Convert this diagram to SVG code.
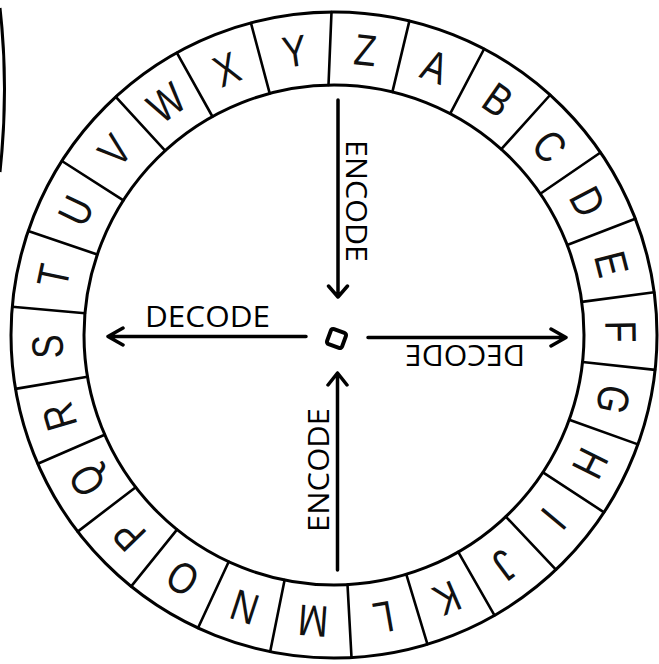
<svg xmlns="http://www.w3.org/2000/svg" width="659" height="664" viewBox="0 0 659 664">
<style>
.ring{fill:none;stroke:#000;stroke-width:3}
.div{stroke:#000;stroke-width:2.6;stroke-linecap:round}
.L{font-family:"Liberation Sans",Arial,sans-serif;font-size:44px;text-anchor:middle;fill:#111}
.lab{font-family:"Open Sans","Noto Sans",sans-serif;font-size:29px;fill:#000}
.arr{fill:none;stroke:#000;stroke-width:3.5;stroke-linecap:round;stroke-linejoin:round}
</style>
<rect width="659" height="664" fill="#fff"/>
<path d="M0,8 Q9,88 0,172" class="ring"/>
<g id="wheel">
<circle cx="334" cy="335" r="323" class="ring"/>
<circle cx="334" cy="335" r="250" class="ring"/>
<g id="dividers">
<line class="div" x1="328.5" y1="85" x2="331.5" y2="12"/>
<line class="div" x1="392.4" y1="91.9" x2="409.4" y2="20.9"/>
<line class="div" x1="450.2" y1="113.7" x2="484.1" y2="49"/>
<line class="div" x1="501.3" y1="149.2" x2="550.1" y2="95"/>
<line class="div" x1="540.3" y1="193.8" x2="600.5" y2="152.5"/>
<line class="div" x1="567.2" y1="245" x2="635.3" y2="218.7"/>
<line class="div" x1="581.8" y1="301.9" x2="654.2" y2="292.3"/>
<line class="div" x1="582.5" y1="362" x2="655.1" y2="369.9"/>
<line class="div" x1="569.2" y1="419.7" x2="637.9" y2="444.4"/>
<line class="div" x1="543" y1="472.3" x2="604" y2="512.3"/>
<line class="div" x1="505.8" y1="516.6" x2="555.9" y2="569.7"/>
<line class="div" x1="458.2" y1="551.9" x2="494.5" y2="615.3"/>
<line class="div" x1="406.3" y1="574.3" x2="427.4" y2="644.2"/>
<line class="div" x1="347.5" y1="584.6" x2="351.5" y2="657.5"/>
<line class="div" x1="284.6" y1="580.1" x2="270.2" y2="651.6"/>
<line class="div" x1="228.7" y1="561.8" x2="198" y2="628"/>
<line class="div" x1="177" y1="529.6" x2="131.2" y2="586.4"/>
<line class="div" x1="135.7" y1="487.2" x2="77.7" y2="531.6"/>
<line class="div" x1="104.7" y1="434.7" x2="37.8" y2="463.8"/>
<line class="div" x1="87.5" y1="376.7" x2="15.5" y2="388.9"/>
<line class="div" x1="85" y1="313.2" x2="12.2" y2="306.8"/>
<line class="div" x1="97.3" y1="254.4" x2="28.2" y2="230.9"/>
<line class="div" x1="123.4" y1="200.3" x2="61.9" y2="161"/>
<line class="div" x1="165.1" y1="150.7" x2="115.8" y2="96.9"/>
<line class="div" x1="212.4" y1="116.5" x2="176.9" y2="52.8"/>
<line class="div" x1="269.7" y1="93.4" x2="250.9" y2="22.9"/>
</g>
<g id="letter-A" transform="translate(435,66.4) rotate(20.6)"><text class="L" y="15.7" transform="scale(0.82,1)">A</text></g>
<g id="letter-B" transform="translate(498,99.5) rotate(34.85)"><text class="L" y="15.7" transform="scale(0.82,1)">B</text></g>
<g id="letter-C" transform="translate(549.9,146) rotate(48.8)"><text class="L" y="15.7" transform="scale(0.82,1)">C</text></g>
<g id="letter-D" transform="translate(588,201.4) rotate(62.25)"><text class="L" y="15.7" transform="scale(0.82,1)">D</text></g>
<g id="letter-E" transform="translate(612,263.9) rotate(75.65)"><text class="L" y="15.7" transform="scale(0.82,1)">E</text></g>
<g id="letter-F" transform="translate(621,331.5) rotate(89.3)"><text class="L" y="15.7" transform="scale(0.82,1)">F</text></g>
<g id="letter-G" transform="translate(613.6,399.6) rotate(103)"><text class="L" y="15.7" transform="scale(0.82,1)">G</text></g>
<g id="letter-H" transform="translate(590.7,463.3) rotate(116.55)"><text class="L" y="15.7" transform="scale(0.82,1)">H</text></g>
<g id="letter-I" transform="translate(554,519.3) rotate(129.95)"><text class="L" y="15.7" transform="scale(0.82,1)">I</text></g>
<g id="letter-J" transform="translate(505.1,565.4) rotate(143.4)"><text class="L" y="15.7" transform="scale(0.82,1)">J</text></g>
<g id="letter-K" transform="translate(447.5,598.6) rotate(156.7)"><text class="L" y="15.7" transform="scale(0.82,1)">K</text></g>
<g id="letter-L" transform="translate(383.6,617.7) rotate(170.05)"><text class="L" y="15.7" transform="scale(0.82,1)">L</text></g>
<g id="letter-M" transform="translate(313.2,621.2) rotate(184.15)"><text class="L" y="15.7" transform="scale(0.82,1)">M</text></g>
<g id="letter-N" transform="translate(244.6,607.7) rotate(198.15)"><text class="L" y="15.7" transform="scale(0.82,1)">N</text></g>
<g id="letter-O" transform="translate(182.4,578.7) rotate(211.9)"><text class="L" y="15.7" transform="scale(0.82,1)">O</text></g>
<g id="letter-P" transform="translate(128.6,535.4) rotate(225.7)"><text class="L" y="15.7" transform="scale(0.82,1)">P</text></g>
<g id="letter-Q" transform="translate(86.7,480.7) rotate(239.5)"><text class="L" y="15.7" transform="scale(0.82,1)">Q</text></g>
<g id="letter-R" transform="translate(58.9,416.8) rotate(253.45)"><text class="L" y="15.7" transform="scale(0.82,1)">R</text></g>
<g id="letter-S" transform="translate(47.2,346.5) rotate(267.7)"><text class="L" y="15.7" transform="scale(0.82,1)">S</text></g>
<g id="letter-T" transform="translate(53.2,275.8) rotate(281.9)"><text class="L" y="15.7" transform="scale(0.82,1)">T</text></g>
<g id="letter-U" transform="translate(75.4,210.5) rotate(295.7)"><text class="L" y="15.7" transform="scale(0.82,1)">U</text></g>
<g id="letter-V" transform="translate(114.5,150.1) rotate(310.05)"><text class="L" y="15.7" transform="scale(0.82,1)">V</text></g>
<g id="letter-W" transform="translate(166.1,102.2) rotate(324.2)"><text class="L" y="15.7" transform="scale(0.82,1)">W</text></g>
<g id="letter-X" transform="translate(226.5,68.9) rotate(338)"><text class="L" y="15.7" transform="scale(0.82,1)">X</text></g>
<g id="letter-Y" transform="translate(294.6,50.7) rotate(352.1)"><text class="L" y="15.7" transform="scale(0.82,1)">Y</text></g>
<g id="letter-Z" transform="translate(365.5,49.7) rotate(6.3)"><text class="L" y="15.7" transform="scale(0.82,1)">Z</text></g>
</g>
<g id="hub"><rect x="328.5" y="330.5" width="16" height="16" rx="2.5" fill="none" stroke="#000" stroke-width="4" transform="rotate(20 336.5 338.5)"/></g>
<g id="connectors">
<path class="arr" d="M338,100 V297 M328.5,286 L338,297 L347.5,286"/>
<path class="arr" d="M337.5,570 V373 M328,385 L337.5,373 L347,385"/>
<path class="arr" d="M306,336.5 H108 M123,328 L108,336.5 L123,345"/>
<path class="arr" d="M368,337.5 H566 M551,329 L566,337.5 L551,346"/>
</g>
<g id="labels">
<text class="lab" x="145" y="327" textLength="125" lengthAdjust="spacingAndGlyphs">DECODE</text>
<text class="lab" x="405" y="365" textLength="120" lengthAdjust="spacingAndGlyphs" transform="rotate(180 465 355)">DECODE</text>
<text class="lab" x="295" y="211.3" textLength="122" lengthAdjust="spacingAndGlyphs" transform="rotate(90 356 201)">ENCODE</text>
<text class="lab" x="257" y="480.3" textLength="124" lengthAdjust="spacingAndGlyphs" transform="rotate(-90 319 470)">ENCODE</text>
</g>
</svg>
